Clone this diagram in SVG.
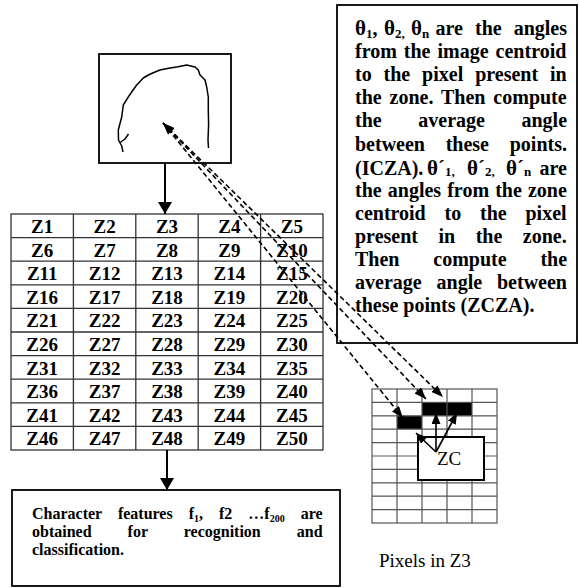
<svg xmlns="http://www.w3.org/2000/svg" width="579" height="588" viewBox="0 0 579 588">
<style>
text{font-family:"Liberation Serif","Times New Roman",serif;fill:#000}
.t{font-weight:bold;font-size:19px;text-anchor:middle}
.rb{font-weight:bold;font-size:20px}
.th{font-size:21px}
.sb{font-size:13px}
.bb{font-weight:bold;font-size:16px}
.reg{font-size:19px}
.box{fill:#fff;stroke:#000;stroke-width:1.8}
.grid{stroke:#333;stroke-width:1.3;fill:none}
.pg{stroke:#555;stroke-width:1.2;fill:none}
</style>
<defs>
<marker id="big" viewBox="0 0 12 14" refX="12" refY="7" markerWidth="12" markerHeight="14" markerUnits="userSpaceOnUse" orient="auto"><path d="M0,0 L12,7 L0,14 z" fill="#000"/></marker>
<marker id="da" viewBox="0 0 12 9" refX="12" refY="4.5" markerWidth="12" markerHeight="9" markerUnits="userSpaceOnUse" orient="auto-start-reverse"><path d="M0,0 L12,4.5 L0,9 z" fill="#000"/></marker>
<marker id="sa" viewBox="0 0 11 9" refX="11" refY="4.5" markerWidth="11" markerHeight="9" markerUnits="userSpaceOnUse" orient="auto"><path d="M0,0 L11,4.5 L0,9 z" fill="#000"/></marker>
</defs>
<rect width="579" height="588" fill="#fff"/>

<g id="image-box">
<rect class="box" x="99" y="54" width="132" height="109"/>
<path d="M123,152 L121.7,146 L118.5,140 L118.3,130 L121.7,117 L123.3,105 L128.3,97 L131.7,92 L136.7,85 L143.3,78 L148.3,75 L155,72 L160,70 L170,68 L176.7,67 L186.7,65 L195,67 L198.3,70 L200,75 L205,80 L206.7,87 L208.3,97 L208.3,110 L208.6,125 L208,140 L208.5,148 M119.5,143 L125,139 L128.5,134" fill="none" stroke="#000" stroke-width="1.5" stroke-linejoin="round"/>
</g>

<g id="zone-table">
<rect class="grid" x="11" y="214" width="312" height="236"/>
<path class="grid" d="M73.4,214V450M135.8,214V450M198.2,214V450M260.6,214V450M11,237.6H323M11,261.2H323M11,284.8H323M11,308.4H323M11,332H323M11,355.6H323M11,379.2H323M11,402.8H323M11,426.4H323"/>
<text class="t" y="233"><tspan x="42.2">Z1</tspan><tspan x="104.6">Z2</tspan><tspan x="167">Z3</tspan><tspan x="229.4">Z4</tspan><tspan x="291.8">Z5</tspan></text>
<text class="t" y="256.6"><tspan x="42.2">Z6</tspan><tspan x="104.6">Z7</tspan><tspan x="167">Z8</tspan><tspan x="229.4">Z9</tspan><tspan x="291.8">Z10</tspan></text>
<text class="t" y="280.2"><tspan x="42.2">Z11</tspan><tspan x="104.6">Z12</tspan><tspan x="167">Z13</tspan><tspan x="229.4">Z14</tspan><tspan x="291.8">Z15</tspan></text>
<text class="t" y="303.8"><tspan x="42.2">Z16</tspan><tspan x="104.6">Z17</tspan><tspan x="167">Z18</tspan><tspan x="229.4">Z19</tspan><tspan x="291.8">Z20</tspan></text>
<text class="t" y="327.4"><tspan x="42.2">Z21</tspan><tspan x="104.6">Z22</tspan><tspan x="167">Z23</tspan><tspan x="229.4">Z24</tspan><tspan x="291.8">Z25</tspan></text>
<text class="t" y="351"><tspan x="42.2">Z26</tspan><tspan x="104.6">Z27</tspan><tspan x="167">Z28</tspan><tspan x="229.4">Z29</tspan><tspan x="291.8">Z30</tspan></text>
<text class="t" y="374.6"><tspan x="42.2">Z31</tspan><tspan x="104.6">Z32</tspan><tspan x="167">Z33</tspan><tspan x="229.4">Z34</tspan><tspan x="291.8">Z35</tspan></text>
<text class="t" y="398.2"><tspan x="42.2">Z36</tspan><tspan x="104.6">Z37</tspan><tspan x="167">Z38</tspan><tspan x="229.4">Z39</tspan><tspan x="291.8">Z40</tspan></text>
<text class="t" y="421.8"><tspan x="42.2">Z41</tspan><tspan x="104.6">Z42</tspan><tspan x="167">Z43</tspan><tspan x="229.4">Z44</tspan><tspan x="291.8">Z45</tspan></text>
<text class="t" y="445.4"><tspan x="42.2">Z46</tspan><tspan x="104.6">Z47</tspan><tspan x="167">Z48</tspan><tspan x="229.4">Z49</tspan><tspan x="291.8">Z50</tspan></text>
</g>

<g id="description-box">
<rect class="box" x="337" y="5" width="240" height="338"/>
<text class="rb" x="355" y="35"><tspan class="th">θ</tspan><tspan class="sb" dy="3">1</tspan><tspan dy="-3">,</tspan></text>
<text class="rb" x="384" y="35"><tspan class="th">θ</tspan><tspan class="sb" dy="3">2,</tspan></text>
<text class="rb" x="411" y="35"><tspan class="th">θ</tspan><tspan class="sb" dy="3">n</tspan></text>
<text class="rb" x="567" y="35" text-anchor="end" word-spacing="7">are the angles</text>
<text class="rb" x="355" y="58.1" word-spacing="2">from the image centroid</text>
<text class="rb" x="355" y="81.2" word-spacing="6.9">to the pixel present in</text>
<text class="rb" x="355" y="104.3" word-spacing="2.9">the zone. Then compute</text>
<text class="rb" x="355" y="127.4" word-spacing="31.6">the average angle</text>
<text class="rb" x="355" y="150.5" word-spacing="15.7">between these points.</text>
<text class="rb" x="355" y="174.6">(ICZA).</text>
<text class="rb" x="427" y="174.6"><tspan class="th">θ´</tspan></text>
<text class="rb sb" x="445" y="175.6">1,</text>
<text class="rb" x="467" y="174.6"><tspan class="th">θ´</tspan></text>
<text class="rb sb" x="485" y="175.6">2,</text>
<text class="rb" x="506" y="174.6"><tspan class="th">θ´</tspan></text>
<text class="rb sb" x="524" y="175.6">n</text>
<text class="rb" x="567" y="174.6" text-anchor="end">are</text>
<text class="rb" x="355" y="197.2" word-spacing="1.1">the angles from the zone</text>
<text class="rb" x="355" y="220" word-spacing="13.8">centroid to the pixel</text>
<text class="rb" x="355" y="243" word-spacing="15.5">present in the zone.</text>
<text class="rb" x="355" y="266" word-spacing="28.8">Then compute the</text>
<text class="rb" x="355" y="289.1" word-spacing="9.9">average angle between</text>
<text class="rb" x="355" y="312.2">these points (ZCZA).</text>
</g>

<g id="features-box">
<rect class="box" x="12" y="490" width="328" height="96"/>
<text class="bb" x="32" y="519" word-spacing="12">Character features f<tspan font-size="10" dy="3">1</tspan><tspan dy="-3">, f2 …f</tspan><tspan font-size="10" dy="3">200</tspan><tspan dy="-3"> are</tspan></text>
<text class="bb" x="32" y="537" word-spacing="32">obtained for recognition and</text>
<text class="bb" x="32" y="555">classification.</text>
</g>

<g id="pixels-z3">
<rect x="422" y="402.4" width="50" height="13.4" fill="#000"/>
<rect x="397" y="415.8" width="25" height="13.4" fill="#000"/>
<rect class="pg" x="372" y="389" width="125" height="134"/>
<path class="pg" d="M397,389V523M422,389V523M447,389V523M472,389V523M372,402.4H497M372,415.8H497M372,429.2H497M372,442.6H497M372,456H497M372,469.4H497M372,482.8H497M372,496.2H497M372,509.6H497"/>
<rect x="418" y="437" width="66" height="43" fill="#fff" stroke="#000" stroke-width="2"/>
<text class="reg" x="437" y="465" font-size="20">ZC</text>
<text class="reg" x="379" y="567">Pixels in Z3</text>
</g>

<g id="connectors" fill="none" stroke="#000">
<line x1="165" y1="163" x2="165" y2="214" stroke-width="2" marker-end="url(#big)"/>
<line x1="167" y1="450" x2="167" y2="490" stroke-width="2" marker-end="url(#big)"/>
<g stroke-width="1.6" stroke-dasharray="5,3">
<line x1="163" y1="123" x2="426" y2="399" marker-start="url(#da)" marker-end="url(#da)"/>
<line x1="163" y1="123" x2="443" y2="397" marker-start="url(#da)" marker-end="url(#da)"/>
<line x1="163" y1="123" x2="403" y2="418" marker-end="url(#da)"/>
</g>
<g stroke-width="1.6">
<line x1="436" y1="452" x2="416" y2="433" marker-end="url(#sa)"/>
<line x1="436" y1="452" x2="436" y2="413" marker-end="url(#sa)"/>
<line x1="436" y1="452" x2="457" y2="413" marker-end="url(#sa)"/>
</g>
</g>
</svg>
